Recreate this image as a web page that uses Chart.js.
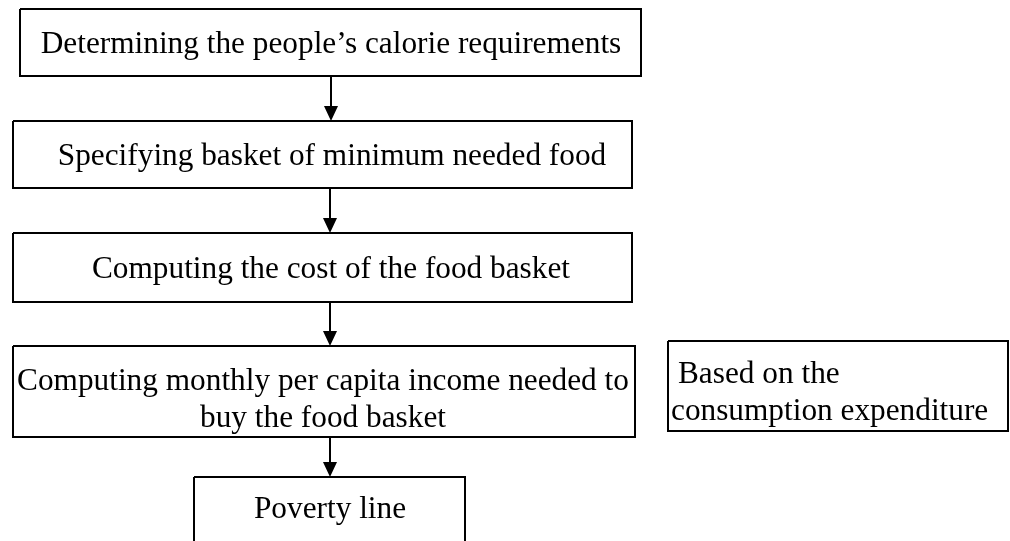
<!DOCTYPE html>
<html>
<head>
<meta charset="utf-8">
<script src="https://cdn.jsdelivr.net/npm/chart.js@4"></script>
<style>
  html, body { margin: 0; padding: 0; background: #fff; }
  #wrap { width: 1010px; height: 541px; position: relative; }
</style>
</head>
<body>
<div id="wrap"><canvas id="flowChart"></canvas></div>
<script>
// flow steps, top to bottom
const stepLabels = [
    ['Determining the people\u2019s calorie requirements'],
    ['Specifying basket of minimum needed food'],
    ['Computing the cost of the food basket'],
    ['Computing monthly per capita income needed to', 'buy the food basket'],
    ['Poverty line']
];
const sideNote = ['Based on the', 'consumption expenditure'];

// layout in page units (x 0..1010, y 0..541 going down)
const stepBoxes = [
    { x0: 20, x1: 641, y0: 9, y1: 76, tx: 331, ty: [53] },
    { x0: 13, x1: 632, y0: 121, y1: 188, tx: 332, ty: [165] },
    { x0: 13, x1: 632, y0: 233, y1: 302, tx: 331, ty: [278] },
    { x0: 13, x1: 635, y0: 346, y1: 437, tx: 323, ty: [390, 427] },
    { x0: 194, x1: 465, y0: 477, y1: 570, tx: 330, ty: [518] }
];
const sideBox = { x0: 668, x1: 1008, y0: 341, y1: 431, tx: [678, 671], ty: [383, 420] };
const arrowX = [331, 330, 330, 330];

const FONT = "31.3px 'Liberation Serif', 'Times New Roman', serif";

function outline(b) {
    return {
        data: [
            { x: b.x0, y: b.y0 }, { x: b.x1, y: b.y0 },
            { x: b.x1, y: b.y1 }, { x: b.x0, y: b.y1 }, { x: b.x0, y: b.y0 }
        ],
        showLine: true,
        borderColor: '#000',
        borderWidth: 2,
        pointRadius: 0,
        fill: false
    };
}

const datasets = stepBoxes.map(outline);
datasets.push(outline(sideBox));
arrowX.forEach((x, i) => {
    datasets.push({
        data: [{ x: x, y: stepBoxes[i].y1 }, { x: x, y: stepBoxes[i + 1].y0 - 12 }],
        showLine: true,
        borderColor: '#000',
        borderWidth: 2,
        pointRadius: 0
    });
});

const flowPlugin = {
    id: 'flowText',
    afterDatasetsDraw(chart) {
        const ctx = chart.ctx;
        const sx = chart.scales.x, sy = chart.scales.y;
        ctx.save();
        // arrow heads
        ctx.fillStyle = '#000';
        arrowX.forEach((x, i) => {
            const tip = stepBoxes[i + 1].y0;
            const px = sx.getPixelForValue(x);
            const pTip = sy.getPixelForValue(tip);
            const pBase = sy.getPixelForValue(tip - 15);
            ctx.beginPath();
            ctx.moveTo(px, pTip);
            ctx.lineTo(px - 7, pBase);
            ctx.lineTo(px + 7, pBase);
            ctx.closePath();
            ctx.fill();
        });
        // labels
        ctx.font = FONT;
        ctx.textBaseline = 'alphabetic';
        ctx.textAlign = 'center';
        stepLabels.forEach((lines, i) => {
            const b = stepBoxes[i];
            lines.forEach((t, j) => {
                ctx.fillText(t, sx.getPixelForValue(b.tx), sy.getPixelForValue(b.ty[j]));
            });
        });
        ctx.textAlign = 'left';
        sideNote.forEach((t, j) => {
            ctx.fillText(t, sx.getPixelForValue(sideBox.tx[j]), sy.getPixelForValue(sideBox.ty[j]));
        });
        ctx.restore();
    }
};

new Chart(document.getElementById('flowChart'), {
    type: 'scatter',
    data: { datasets: datasets },
    options: {
        responsive: true,
        maintainAspectRatio: false,
        animation: false,
        layout: { padding: 0 },
        plugins: { legend: { display: false }, tooltip: { enabled: false } },
        scales: {
            x: { type: 'linear', min: 0, max: 1010, display: false },
            y: { type: 'linear', min: 0, max: 541, reverse: true, display: false }
        }
    },
    plugins: [flowPlugin]
});
</script>
</body>
</html>
